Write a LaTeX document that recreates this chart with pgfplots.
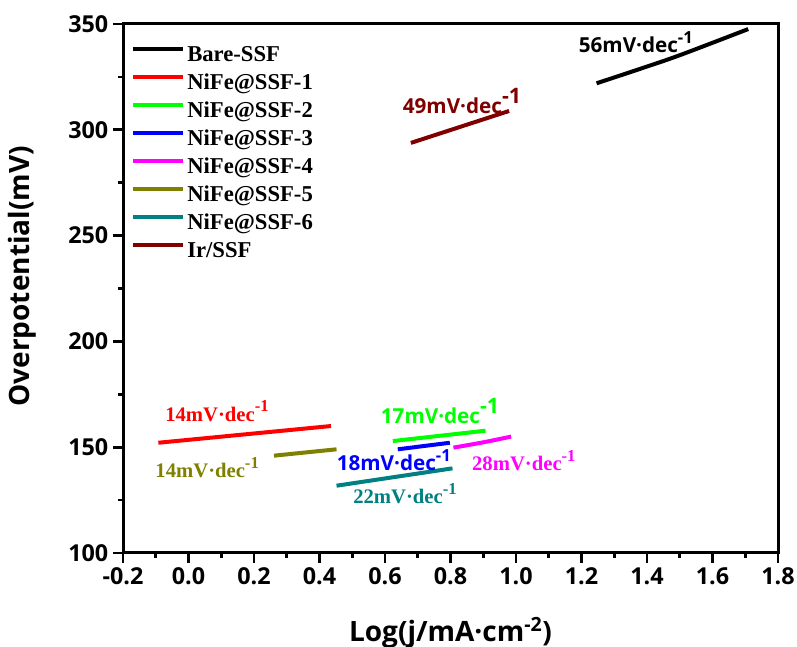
\documentclass[border=0pt]{standalone}
\usepackage{fontspec}
\setmainfont{Liberation Serif}
\setsansfont{Open Sans}
\usepackage{pgfplots}
\pgfplotsset{compat=1.18}
\definecolor{cOlive}{HTML}{808000}
\definecolor{cTeal}{HTML}{008080}
\definecolor{cDarkRed}{HTML}{800000}
\definecolor{cGreen}{HTML}{00FF00}
\definecolor{cMagenta}{HTML}{FF00FF}

\newcommand{\serlab}{\rmfamily\bfseries\fontsize{15.5}{17}\selectfont}
\newcommand{\sanlab}{\sffamily\bfseries\fontsize{15.5}{17}\selectfont}
\newcommand{\sups}[1]{\raisebox{0.45em}{\fontsize{12.5}{14}\selectfont #1}}
\newcommand{\bigsups}[1]{\raisebox{0.45em}{\fontsize{16}{18}\selectfont #1}}

\begin{document}
\begin{tikzpicture}
\begin{axis}[
    scale only axis,
    width=491.25pt,
    height=396.75pt,
    xmin=-0.2, xmax=1.8,
    ymin=100, ymax=350,
    xtick={-0.2,0,0.2,0.4,0.6,0.8,1.0,1.2,1.4,1.6,1.8},
    ytick={100,150,200,250,300,350},
    minor x tick num=1,
    minor y tick num=1,
    tick pos=left,
    tick align=outside,
    major tick length=7.5pt,
    minor tick length=3.75pt,
    every tick/.style={black, line width=2pt},
    axis line style={line width=2.25pt},
    /pgf/number format/assume math mode=true,
    xticklabel style={font=\sffamily\bfseries\fontsize{17.5}{19}\selectfont,
        /pgf/number format/fixed, /pgf/number format/fixed zerofill,
        /pgf/number format/precision=1},
    yticklabel style={font=\sffamily\bfseries\fontsize{17.5}{19}\selectfont},
    xlabel={Log(j/mA·cm\textsuperscript{-2})},
    ylabel={Overpotential(mV)},
    every axis x label/.style={at={(axis description cs:0.5,-0.151)}, anchor=center,
        font=\sffamily\bfseries\fontsize{21}{23}\selectfont},
    every axis y label/.style={at={(axis description cs:-0.154,0.523)}, anchor=center,
        rotate=90, font=\sffamily\bfseries\fontsize{21}{23}\selectfont},
    legend style={draw=none, fill=none, at={(0,1)}, anchor=north west,
        xshift=3pt, yshift=-12.5pt,
        font=\rmfamily\bfseries\fontsize{17}{19}\selectfont,
        row sep=3pt,
        nodes={inner sep=1.5pt, text height=12pt, text depth=3pt}},
    legend cell align=left,
    legend image code/.code={\draw[#1] (0pt,5pt) -- (37.5pt,5pt);},
]
\addplot[black, line width=3pt, smooth] coordinates {(1.246,321.97) (1.379,328.8) (1.501,335.3) (1.709,347.6)};
\addlegendentry{Bare-SSF}
\addplot[red, line width=3pt] coordinates {(-0.092,152.1) (0.435,160.0)};
\addlegendentry{NiFe@SSF-1}
\addplot[cGreen, line width=3pt] coordinates {(0.624,152.9) (0.907,157.8)};
\addlegendentry{NiFe@SSF-2}
\addplot[blue, line width=3pt] coordinates {(0.639,149.0) (0.798,152.1)};
\addlegendentry{NiFe@SSF-3}
\addplot[cMagenta, line width=3pt, smooth] coordinates {(0.809,149.8) (0.900,152.3) (0.985,155.0)};
\addlegendentry{NiFe@SSF-4}
\addplot[cOlive, line width=3pt] coordinates {(0.261,146.0) (0.452,149.0)};
\addlegendentry{NiFe@SSF-5}
\addplot[cTeal, line width=3pt] coordinates {(0.452,131.8) (0.806,140.0)};
\addlegendentry{NiFe@SSF-6}
\addplot[cDarkRed, line width=3pt] coordinates {(0.679,293.8) (0.979,308.9)};
\addlegendentry{Ir/SSF}

\node[font=\sanlab, black] at (axis cs:1.366,341.5) {56mV·dec\sups{-1}};
\node[font=\sanlab, cDarkRed] at (axis cs:0.835,313.6) {49mV·dec\bigsups{-1}};
\node[font=\serlab, red] at (axis cs:0.087,167.1) {14mV·dec\sups{-1}};
\node[font=\serlab, cOlive] at (axis cs:0.057,140.2) {14mV·dec\sups{-1}};
\node[font=\sanlab, cGreen] at (axis cs:0.768,167.1) {17mV·dec\bigsups{-1}};
\node[font=\sanlab, blue] at (axis cs:0.627,144.0) {18mV·dec\sups{-1}};
\node[font=\serlab, cTeal] at (axis cs:0.661,127.9) {22mV·dec\sups{-1}};
\node[font=\serlab, cMagenta] at (axis cs:1.024,143.5) {28mV·dec\sups{-1}};
\end{axis}
\pgfresetboundingbox
\path[use as bounding box] ([xshift=-92.25pt,yshift=-70.5pt]current axis.south west) rectangle ([xshift=14.25pt,yshift=18pt]current axis.north east);
\end{tikzpicture}
\end{document}
